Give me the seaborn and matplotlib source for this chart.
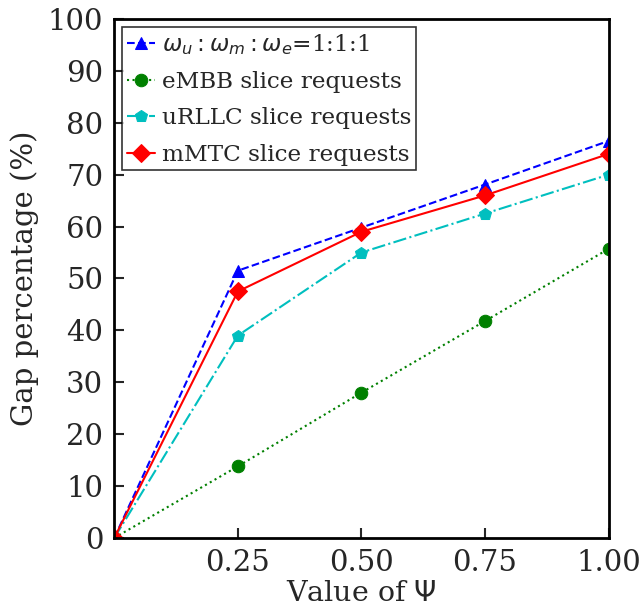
import matplotlib
matplotlib.use("Agg")
import matplotlib.pyplot as plt
import seaborn as sns
import pandas as pd

psi = [0.0, 0.25, 0.50, 0.75, 1.00]
ratio_111 = [0.0, 51.5, 59.8, 68.1, 76.5]
embb = [0.0, 13.8, 28.0, 41.8, 55.7]
urllc = [0.0, 39.0, 55.0, 62.5, 70.0]
mmtc = [0.0, 47.5, 59.0, 66.0, 74.0]
xticks = [0.25, 0.50, 0.75, 1.00]
xtick_labels = ["0.25", "0.50", "0.75", "1.00"]

sns.set_style("white")
plt.rcParams["font.family"] = ["DejaVu Serif"]
plt.rcParams["mathtext.fontset"] = "dejavusans"

fig = plt.figure(figsize=(6.42, 6.12), dpi=100)
ax = fig.add_axes([0.178, 0.121, 0.770, 0.848])

series = [
    (ratio_111, r"$\omega_u:\omega_m:\omega_e$=1:1:1", "blue", "--", "^"),
    (embb, "eMBB slice requests", "green", ":", "o"),
    (urllc, "uRLLC slice requests", "c", "-.", "p"),
    (mmtc, "mMTC slice requests", "red", "-", "D"),
]
for vals, lab, col, ls, mk in series:
    df = pd.DataFrame({"x": psi, "y": vals})
    sns.lineplot(data=df, x="x", y="y", ax=ax, color=col, linestyle=ls,
                 marker=mk, markersize=9, markeredgecolor=col, linewidth=1.5,
                 label=lab)

ax.set_xlim(0, 1.0)
ax.set_ylim(0, 100)
ax.set_xticks(xticks)
ax.set_xticklabels(xtick_labels)
ax.set_yticks(range(0, 101, 10))
ax.tick_params(direction="in", length=7, width=1.5, labelsize=21,
               bottom=True, left=True, top=False, right=False, pad=8)
for s in ax.spines.values():
    s.set_linewidth(2)
    s.set_color("black")
ax.set_xlabel(r"Value of $\Psi$", fontsize=20.5, labelpad=2)
ax.set_ylabel("Gap percentage (%)", fontsize=21, labelpad=6)

leg = ax.legend(loc="upper left", fontsize=16.7, frameon=True, fancybox=False,
                handlelength=1.2, handletextpad=0.3, borderaxespad=0.35,
                borderpad=0.2, labelspacing=0.62)
leg.get_frame().set_edgecolor("black")
leg.get_frame().set_linewidth(1.2)

fig.savefig("out.png", dpi=100)
